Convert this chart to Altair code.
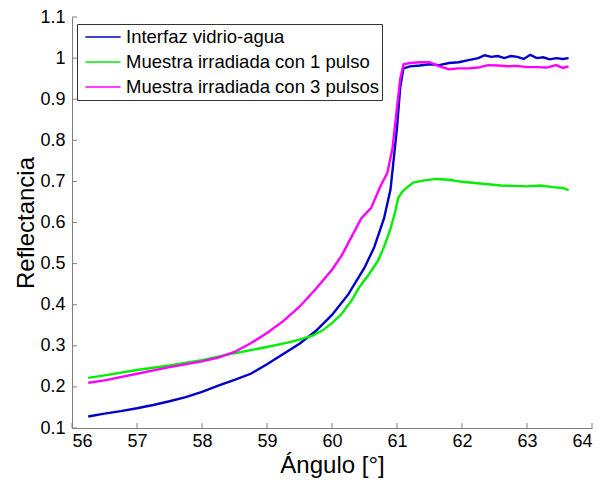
import altair as alt
import pandas as pd

series_names = ["Interfaz vidrio-agua", "Muestra irradiada con 1 pulso", "Muestra irradiada con 3 pulsos"]
series_colors = ["#0000cc", "#00ee00", "#ff00ff"]

blue_x = [56.25, 56.5, 56.75, 57.0, 57.25, 57.5, 57.75, 58.0, 58.25, 58.5, 58.75, 59.0, 59.25, 59.5, 59.75,
          60.0, 60.25, 60.5, 60.65, 60.8, 60.9, 61.0, 61.05, 61.1, 61.2, 61.35, 61.5, 61.65, 61.8, 61.95,
          62.1, 62.25, 62.35, 62.45, 62.55, 62.65, 62.75, 62.85, 62.95, 63.05, 63.15, 63.25, 63.35, 63.45,
          63.55, 63.64]
blue_y = [0.128, 0.135, 0.141, 0.148, 0.156, 0.165, 0.175, 0.188, 0.203, 0.217, 0.232, 0.255, 0.28, 0.305,
          0.336, 0.375, 0.425, 0.49, 0.54, 0.61, 0.68, 0.83, 0.93, 0.975, 0.98, 0.982, 0.985, 0.983, 0.988,
          0.99, 0.995, 1.0, 1.007, 1.003, 1.005, 1.0, 1.005, 1.003, 0.998, 1.008, 1.0, 1.002, 0.997, 1.0,
          0.998, 1.0]

green_x = [56.25, 56.5, 57.0, 57.5, 58.0, 58.5, 59.0, 59.3, 59.5, 59.7, 59.85, 60.0, 60.15, 60.3, 60.43,
           60.55, 60.7, 60.8, 60.9, 60.97, 61.02, 61.08, 61.15, 61.25, 61.4, 61.6, 61.8, 62.0, 62.2, 62.4,
           62.6, 62.8, 63.0, 63.2, 63.4, 63.55, 63.64]
green_y = [0.222, 0.228, 0.241, 0.252, 0.265, 0.282, 0.297, 0.307, 0.315, 0.325, 0.337, 0.355, 0.378, 0.41,
           0.445, 0.47, 0.505, 0.54, 0.585, 0.625, 0.66, 0.675, 0.685, 0.697, 0.702, 0.706, 0.704, 0.699,
           0.696, 0.693, 0.69, 0.689, 0.688, 0.69, 0.686, 0.684, 0.679]

magenta_x = [56.25, 56.5, 57.0, 57.5, 58.0, 58.25, 58.5, 58.75, 59.0, 59.25, 59.5, 59.75, 60.0, 60.15, 60.3,
             60.45, 60.6, 60.75, 60.85, 60.93, 61.0, 61.05, 61.1, 61.2, 61.35, 61.5, 61.65, 61.8, 61.95, 62.1,
             62.25, 62.4, 62.55, 62.7, 62.85, 63.0, 63.15, 63.3, 63.45, 63.55, 63.64]
magenta_y = [0.21, 0.216, 0.232, 0.248, 0.262, 0.271, 0.285, 0.306, 0.331, 0.36, 0.395, 0.438, 0.485, 0.52, 0.565,
             0.61, 0.635, 0.69, 0.72, 0.78, 0.88, 0.95, 0.985, 0.988, 0.99, 0.99, 0.98, 0.973, 0.975, 0.975,
             0.977, 0.983, 0.982, 0.98, 0.981, 0.978, 0.978, 0.977, 0.983, 0.976, 0.98]

x_ticks = [56, 57, 58, 59, 60, 61, 62, 63, 64]
y_ticks = [0.1, 0.2, 0.3, 0.4, 0.5, 0.6, 0.7, 0.8, 0.9, 1.0, 1.1]

rows = []
for name, xs, ys in zip(series_names, [blue_x, green_x, magenta_x], [blue_y, green_y, magenta_y]):
    for i, (a, b) in enumerate(zip(xs, ys)):
        rows.append({"serie": name, "angulo": a, "refl": b, "i": i})
df = pd.DataFrame(rows)

FONT = "Liberation Sans"
xscale = alt.Scale(domain=[56, 64], nice=False, zero=False)
yscale = alt.Scale(domain=[0.1, 1.1], nice=False, zero=False)
xaxis = alt.Axis(values=x_ticks, format="~g", grid=False, tickSize=0, labelPadding=4, titlePadding=3)
yaxis = alt.Axis(values=y_ticks, format="~g", grid=False, tickSize=0, labelPadding=7, titlePadding=1)
XT = "Ángulo [°]"
YT = "Reflectancia"

lines = alt.Chart(df).mark_line(strokeWidth=2.4).encode(
    x=alt.X("angulo:Q", scale=xscale, title=XT, axis=xaxis),
    y=alt.Y("refl:Q", scale=yscale, title=YT, axis=yaxis),
    color=alt.Color("serie:N", scale=alt.Scale(domain=series_names, range=series_colors),
                    sort=series_names, title=None,
                    legend=alt.Legend(orient="none", legendX=5, legendY=7,
                                      symbolType="M-2,0H2", symbolSize=310, symbolStrokeWidth=1.6,
                                      symbolOffset=13, labelOffset=13, labelFontSize=18.5,
                                      labelFont=FONT, labelColor="black", rowPadding=5,
                                      padding=3, strokeColor="#333333", fillColor="white",
                                      labelLimit=400)),
    order="i:Q",
)

xt = alt.Chart(pd.DataFrame({"t": x_ticks})).mark_rule(color="#808080", strokeWidth=1).encode(
    x=alt.X("t:Q", scale=xscale, title=XT, axis=xaxis), y=alt.value(411), y2=alt.value(406))
yt = alt.Chart(pd.DataFrame({"t": y_ticks})).mark_rule(color="#808080", strokeWidth=1).encode(
    y=alt.Y("t:Q", scale=yscale, title=YT, axis=yaxis), x=alt.value(0), x2=alt.value(5))

chart = alt.layer(xt, yt, lines).properties(
    width=520, height=411,
    background="white",
    autosize=alt.AutoSizeParams(type="none"),
    padding={"left": 72, "top": 17, "right": 13, "bottom": 55},
).configure_view(stroke=None).configure_axis(
    domainColor="#808080", labelFont=FONT, titleFont=FONT, labelFontSize=18, titleFontSize=24,
    labelColor="black", titleColor="black", titleFontWeight="normal",
)

chart.save("out.html", embed_options={"renderer": "svg", "actions": False})
